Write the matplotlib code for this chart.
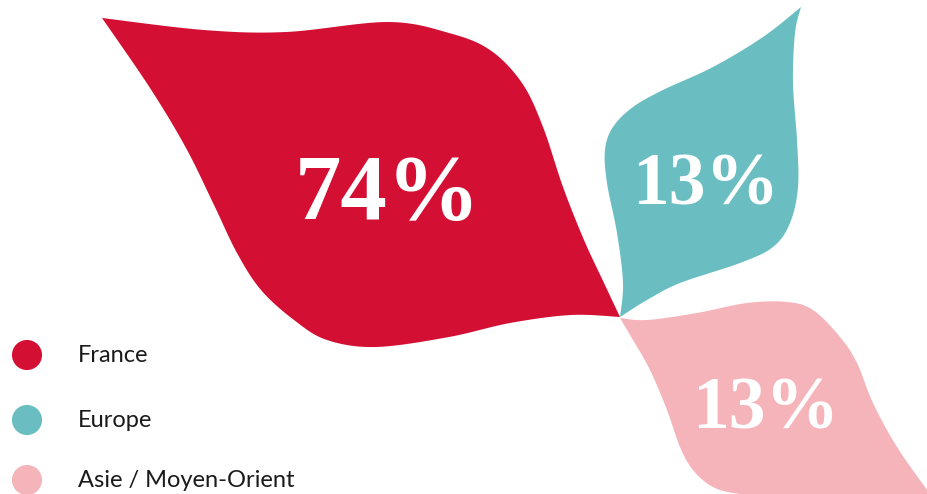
import numpy as np
import matplotlib
matplotlib.use("Agg")
import matplotlib.pyplot as plt

# data
regions = ["France", "Europe", "Asie / Moyen-Orient"]
shares = [74, 13, 13]
colors = ["#D40F34", "#6ABEC1", "#F5B3BA"]

# petal outlines in pixel space (y down), two edges each from the shared base to the tip
PETALS = [
    ([(620, 317), (604, 283), (584, 240), (563, 187), (543, 127), (522, 83), (490, 50),
      (449, 33), (388, 22), (286, 32), (204, 30), (102, 18)],
     [(620, 317), (571, 315), (510, 323), (449, 337), (376, 347), (327, 340), (294, 320),
      (261, 290), (237, 253), (214, 205), (186, 148), (150, 88), (102, 18)]),
    ([(620, 317), (623, 283), (617, 233), (607, 183), (605, 150), (613, 127), (633, 107),
      (663, 90), (713, 67), (763, 37), (801, 7)],
     [(620, 317), (647, 300), (680, 283), (740, 263), (773, 247), (790, 223), (798, 187),
      (797, 140), (793, 83), (795, 33), (801, 7)]),
    ([(620, 318), (647, 320), (697, 313), (747, 303), (787, 302), (813, 310), (840, 337),
      (857, 363), (873, 403), (897, 447), (930, 494), (945, 515)],
     [(620, 318), (633, 340), (650, 370), (667, 410), (680, 447), (693, 470), (713, 487),
      (740, 494), (800, 500), (945, 515)]),
]
LABEL_POS = [(388, 196), (706, 186), (766, 410)]
LABEL_SIZE = [67, 53, 53]
LEGEND_Y = [355, 420, 480]


def catmull(pts, n=16):
    p = np.asarray(pts, float)
    p = np.vstack([p[0], p, p[-1]])
    out = []
    for i in range(1, len(p) - 2):
        p0, p1, p2, p3 = p[i - 1], p[i], p[i + 1], p[i + 2]
        t = np.linspace(0, 1, n, endpoint=False)[:, None]
        out.append(0.5 * ((2 * p1) + (-p0 + p2) * t
                          + (2 * p0 - 5 * p1 + 4 * p2 - p3) * t ** 2
                          + (-p0 + 3 * p1 - 3 * p2 + p3) * t ** 3))
    out.append(p[-2][None, :])
    return np.vstack(out)


fig = plt.figure(figsize=(9.28, 4.94), dpi=100)
ax = fig.add_axes([0, 0, 1, 1])
ax.set_xlim(0, 928)
ax.set_ylim(494, 0)
ax.axis("off")

for (edge_a, edge_b), col in zip(PETALS, colors):
    a = catmull(edge_a)
    b = catmull(edge_b)[::-1]
    outline = np.vstack([a, b])
    ax.fill(outline[:, 0], outline[:, 1], color=col, lw=0)

for share, (x, y), fs in zip(shares, LABEL_POS, LABEL_SIZE):
    ax.text(x, y, f"{share}%", color="white", fontsize=fs, fontweight="bold",
            family="Liberation Serif", ha="center", va="center")

ax.scatter([27] * len(regions), LEGEND_Y, s=470, c=colors, lw=0, clip_on=False)
for name, y in zip(regions, LEGEND_Y):
    ax.text(78, y, name, fontsize=17, family="Lato", color="#1a1a1a",
            ha="left", va="center")

fig.savefig("out.png", dpi=100)
